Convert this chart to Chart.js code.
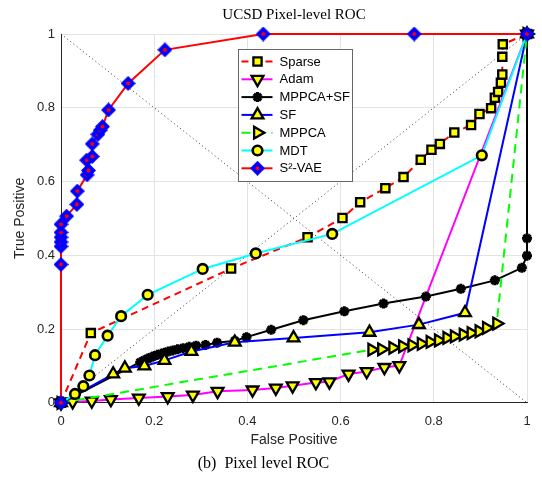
<!DOCTYPE html>
<html><head><meta charset="utf-8">
<script src="https://cdn.jsdelivr.net/npm/chart.js@4.4.0/dist/chart.umd.min.js"></script>
<style>html,body{margin:0;padding:0;background:#fff}</style>
</head><body>
<canvas id="c" width="542" height="487"></canvas>
<script>
// ---- data ----
const seriesNames = ['Sparse','Adam','MPPCA+SF','SF','MPPCA','MDT','S²-VAE'];
const tickLabels = ['0','0.2','0.4','0.6','0.8','1'];

const sparseX = [0,0.064,0.365,0.529,0.604,0.642,0.696,0.735,0.772,0.795,0.813,0.844,0.880,0.898,0.923,0.931,0.938,0.944,0.947,0.947,0.948,1];
const sparseY = [0,0.189,0.364,0.449,0.501,0.544,0.582,0.612,0.659,0.686,0.702,0.733,0.753,0.783,0.799,0.827,0.843,0.868,0.890,0.938,0.972,1];

const adamX = [0,0.025,0.066,0.107,0.167,0.229,0.283,0.336,0.411,0.461,0.497,0.547,0.576,0.617,0.656,0.694,0.726,1];
const adamY = [0,0.003,0.005,0.009,0.013,0.017,0.021,0.031,0.035,0.040,0.046,0.055,0.057,0.078,0.085,0.096,0.101,1];

const mppcaSfX = [0,0.170,0.178,0.186,0.193,0.200,0.207,0.215,0.222,0.230,0.240,0.250,0.262,0.275,0.290,0.310,0.335,0.373,0.398,0.451,0.520,0.608,0.692,0.783,0.858,0.931,0.989,1,1,1];
const mppcaSfY = [0,0.110,0.115,0.120,0.123,0.127,0.130,0.133,0.136,0.139,0.142,0.145,0.148,0.152,0.155,0.157,0.163,0.168,0.178,0.198,0.224,0.248,0.269,0.288,0.309,0.332,0.366,0.399,0.446,1];

const sfX = [0,0.112,0.137,0.179,0.222,0.280,0.373,0.499,0.662,0.768,0.867,1];
const sfY = [0,0.078,0.094,0.100,0.115,0.139,0.164,0.176,0.191,0.212,0.244,1];

const mppcaX = [0,0.667,0.688,0.712,0.733,0.753,0.773,0.792,0.810,0.828,0.844,0.863,0.880,0.897,0.913,0.935,1];
const mppcaY = [0,0.144,0.145,0.149,0.153,0.156,0.160,0.165,0.169,0.176,0.180,0.185,0.189,0.194,0.203,0.215,1];

const mdtX = [0,0.030,0.048,0.061,0.073,0.100,0.129,0.186,0.304,0.418,0.582,0.903,1];
const mdtY = [0,0.024,0.045,0.074,0.129,0.182,0.235,0.293,0.363,0.405,0.458,0.671,1];

const s2vaeX = [0,0,0,0,0,0,0,0.012,0.034,0.035,0.056,0.059,0.055,0.067,0.067,0.079,0.084,0.089,0.102,0.144,0.223,0.434,0.758,1];
const s2vaeY = [0,0.375,0.424,0.436,0.449,0.462,0.484,0.506,0.538,0.574,0.618,0.630,0.658,0.668,0.702,0.728,0.739,0.749,0.794,0.866,0.957,1,1,1];

const diagUpX = [0,1], diagUpY = [0,1];
const diagDownX = [0,1], diagDownY = [1,0];

// ---- helpers ----
const pts = (xs, ys) => xs.map((x, i) => ({x, y: ys[i]}));

function diamondImage() {
  const c = document.createElement('canvas');
  c.width = 15; c.height = 15;
  const g = c.getContext('2d');
  g.fillStyle = '#0000ff';
  g.beginPath(); g.moveTo(7.5,0); g.lineTo(15,7.5); g.lineTo(7.5,15); g.lineTo(0,7.5); g.closePath(); g.fill();
  g.fillStyle = '#ff0000';
  g.beginPath(); g.arc(7.5,7.5,2,0,Math.PI*2); g.fill();
  return c;
}
const diamond = diamondImage();

const YEL = '#ffff00', BLK = '#000000';
function series(label, xs, ys, color, dash, style, radius, rotation, order, bw) {
  return {
    label, data: pts(xs, ys), showLine: true, borderColor: color, borderWidth: 2,
    borderDash: dash, pointStyle: style, pointRadius: radius, pointRotation: rotation,
    pointBackgroundColor: style === 'star' ? BLK : YEL, pointBorderColor: BLK,
    pointBorderWidth: bw, order, clip: false, tension: 0
  };
}

const datasets = [
  series(seriesNames[0], sparseX, sparseY, '#ff0000', [7,5], 'rect', 5.8, 0, 7, 2.3),
  series(seriesNames[1], adamX, adamY, '#ff00ff', [], 'triangle', 6.8, 180, 6, 2.3),
  series(seriesNames[2], mppcaSfX, mppcaSfY, '#000000', [], 'star', 5, 0, 5, 3),
  series(seriesNames[3], sfX, sfY, '#0000ff', [], 'triangle', 6.8, 0, 4, 2.3),
  series(seriesNames[4], mppcaX, mppcaY, '#00ff00', [9,6], 'triangle', 6.8, 90, 3, 2.3),
  series(seriesNames[5], mdtX, mdtY, '#00ffff', [], 'circle', 4.8, 0, 2, 2.6),
  series(seriesNames[6], s2vaeX, s2vaeY, '#ff0000', [], diamond, 7.5, 0, 1, 0),
  {label: '_diag1', data: pts(diagUpX, diagUpY), showLine: true, borderColor: '#333', borderWidth: 1,
   borderDash: [1,3], pointRadius: 0, order: 10, clip: false},
  {label: '_diag2', data: pts(diagDownX, diagDownY), showLine: true, borderColor: '#333', borderWidth: 1,
   borderDash: [1,3], pointRadius: 0, order: 10, clip: false}
];

// ---- in-plot legend (MATLAB style) ----
const legendPlugin = {
  id: 'matlabLegend',
  afterDraw(chart) {
    const ctx = chart.ctx, a = chart.chartArea;
    const L = a.left + 177.5, T = a.top + 15.5, W = 114, H = 132;
    ctx.save();
    ctx.fillStyle = '#fff'; ctx.strokeStyle = '#666'; ctx.lineWidth = 1;
    ctx.fillRect(L, T, W, H); ctx.strokeRect(L, T, W, H);
    const dsList = chart.data.datasets.slice(0, 7);
    dsList.forEach((ds, i) => {
      const y = T + 12 + i * 17.8;
      ctx.save();
      ctx.strokeStyle = ds.borderColor; ctx.lineWidth = 2;
      ctx.setLineDash(ds.borderDash || []);
      ctx.beginPath(); ctx.moveTo(L + 3, y); ctx.lineTo(L + 34, y); ctx.stroke();
      ctx.restore();
      ctx.save();
      ctx.fillStyle = ds.pointBackgroundColor; ctx.strokeStyle = ds.pointBorderColor;
      ctx.lineWidth = ds.pointBorderWidth;
      Chart.helpers.drawPoint(ctx, {pointStyle: ds.pointStyle, rotation: ds.pointRotation,
        radius: ds.pointRadius, borderWidth: ds.pointBorderWidth}, L + 19, y);
      ctx.restore();
      ctx.fillStyle = '#000'; ctx.font = '13px "Liberation Sans", Arial, sans-serif';
      ctx.textBaseline = 'middle'; ctx.textAlign = 'left';
      ctx.fillText(ds.label, L + 41, y + 0.5);
    });
    ctx.restore();
  }
};

const axisFont = {family: '"Liberation Sans", Arial, sans-serif', size: 13};
const titleFont = {family: '"Liberation Sans", Arial, sans-serif', size: 14};

new Chart(document.getElementById('c'), {
  type: 'scatter',
  data: {datasets},
  options: {
    responsive: false, animation: false, events: [],
    layout: {padding: {left: 0, right: 15, top: 0, bottom: 0}},
    plugins: {
      legend: {display: false}, tooltip: {enabled: false},
      title: {display: true, text: 'UCSD Pixel-level ROC', fullSize: false, color: '#000',
        font: {family: '"Liberation Serif", "Times New Roman", serif', size: 15, weight: 'normal'},
        padding: {top: 6, bottom: 10}},
      subtitle: {display: true, position: 'bottom', text: '(b)  Pixel level ROC', color: '#000',
        font: {family: '"Liberation Serif", "Times New Roman", serif', size: 16, weight: 'normal'},
        padding: {top: 4, bottom: 14}}
    },
    scales: {
      x: {type: 'linear', min: 0, max: 1,
        afterFit: s => { s.height = 47; },
        ticks: {stepSize: 0.2, padding: 11, color: '#262626', font: axisFont, maxRotation: 0,
          callback: (v, i) => tickLabels[i]},
        grid: {color: '#e3e3e3', drawTicks: false},
        border: {display: true, color: '#262626', width: 1},
        title: {display: true, text: 'False Positive', color: '#262626', font: titleFont, padding: {top: 0, bottom: 1}}
      },
      y: {type: 'linear', min: 0, max: 1,
        afterFit: s => { s.width = 61; },
        ticks: {stepSize: 0.2, padding: 6, color: '#262626', font: axisFont,
          callback: (v, i) => tickLabels[i]},
        grid: {color: '#e3e3e3', drawTicks: false},
        border: {display: true, color: '#262626', width: 1},
        title: {display: true, text: 'True Positive', color: '#262626', font: titleFont, padding: {top: 12, bottom: 0}}
      }
    }
  },
  plugins: [legendPlugin]
});
</script>
</body></html>
